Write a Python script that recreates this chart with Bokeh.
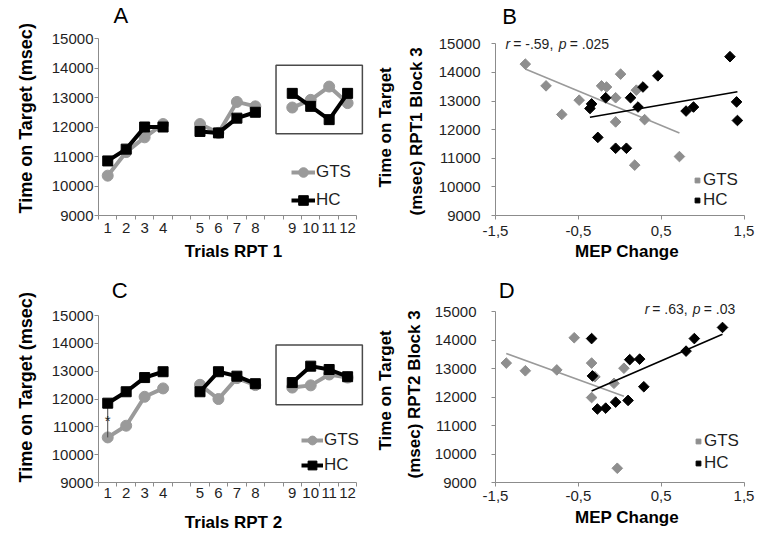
import numpy as np
from bokeh.plotting import figure
from bokeh.layouts import row, column
from bokeh.models import Range1d, FixedTicker, Legend, LegendItem, Label, BoxAnnotation, Title
from bokeh.embed import file_html
from bokeh.resources import INLINE

FONT = "Liberation Sans"
GRAY = "#9a9a9a"
DGRAY = "#8e8e8e"
AXIS = "#8c8c8c"
TXT = "#1f1f1f"

# ---------------- data ----------------
trial_labels = [str(i) for i in range(1, 13)]
trial_slots = [0, 1, 2, 3, 5, 6, 7, 8, 10, 11, 12, 13]   # category slots (blank slots between blocks)
blocks = [(0, 4), (4, 8), (8, 12)]
y_ticks = [9000, 10000, 11000, 12000, 13000, 14000, 15000]

rpt1_gts = [10350, 11150, 11650, 12100, 12100, 11800, 12850, 12700, 12660, 12920, 13370, 12810]
rpt1_hc = [10850, 11250, 12000, 12000, 11850, 11800, 12300, 12500, 13140, 12700, 12250, 13140]
rpt2_gts = [10620, 11040, 12080, 12380, 12510, 12000, 12750, 12500, 12410, 12490, 12880, 12770]
rpt2_hc = [11850, 12260, 12770, 12980, 12260, 12980, 12820, 12550, 12590, 13180, 13060, 12800]

mep_ticks = [-1.5, -0.5, 0.5, 1.5]
mep_tick_labels = ["-1,5", "-0,5", "0,5", "1,5"]

b_gts_x = [-1.14, -0.89, -0.70, -0.49, -0.22, -0.16, -0.05, 0.01, -0.05, 0.18, 0.20, 0.30, 0.72]
b_gts_y = [14290, 13530, 12530, 13030, 13530, 13490, 13115, 13940, 12270, 10760, 13380, 12350, 11060]
b_hc_x = [-0.34, -0.36, -0.265, -0.17, -0.05, 0.08, 0.13, 0.22, 0.28, 0.46, 0.80, 0.89, 1.33, 1.41, 1.42]
b_hc_y = [12900, 12740, 11730, 13115, 11350, 11350, 13115, 12790, 13490, 13880, 12650, 12790, 14550, 12970, 12320]
b_gts_fit_y = [14118, 11880]   # fitted line at min/max MEP of group
b_hc_fit_y = [12434, 13327]

d_gts_x = [-1.37, -1.14, -0.76, -0.55, -0.34, -0.30, -0.34, -0.07, 0.05, -0.03]
d_gts_y = [13190, 12920, 12950, 14080, 13190, 12710, 11980, 12480, 13010, 9500]
d_hc_x = [-0.34, -0.33, -0.27, -0.17, -0.05, 0.10, 0.12, 0.24, 0.29, 0.80, 0.90, 1.24]
d_hc_y = [14050, 12740, 11580, 11610, 11820, 11880, 13310, 13330, 12360, 13610, 14050, 14440]
d_gts_fit_y = [13524, 12024]
d_hc_fit_y = [12214, 14202]

# ---------------- layout (pixels) ----------------
LEFT_W, RIGHT_W = 373, 385
TOP_H, BOT_H = 268, 266
L_BORDER, L_RIGHT = 90, 5
R_BORDER, R_RIGHT = 112, 0
MEP_PX = 86.0   # pixels per MEP unit


def y_end(frame_h, px_15000_from_bottom):
    # frame spans the whole height above the x axis; 15000 sits px_15000_from_bottom above it
    return 9000 + 6000 * frame_h / px_15000_from_bottom


def base_fig(width, height, left, right, bottom, x_range, y_range):
    p = figure(width=width, height=height, x_range=x_range, y_range=y_range,
               output_backend="svg", toolbar_location=None,
               min_border_left=left, min_border_right=right,
               min_border_top=0, min_border_bottom=bottom)
    p.outline_line_color = None
    p.xgrid.visible = False
    p.ygrid.visible = False
    for ax in (p.xaxis[0], p.yaxis[0]):
        ax.axis_line_color = AXIS
        ax.major_tick_line_color = AXIS
        ax.minor_tick_line_color = AXIS
        ax.major_label_text_font = FONT
        ax.major_label_text_font_size = "15px"
        ax.major_label_text_color = TXT
        ax.axis_label_text_font = FONT
        ax.axis_label_text_font_size = "17px"
        ax.axis_label_text_font_style = "bold"
        ax.axis_label_text_color = "black"
    ya = p.yaxis[0]
    ya.ticker = FixedTicker(ticks=y_ticks)
    ya.bounds = (9000, 15000)
    ya.major_tick_out = 4
    ya.major_tick_in = 0
    ya.minor_tick_out = 0
    ya.minor_tick_in = 0
    return p


def ytitle(p, text, size, offset, standoff):
    p.add_layout(Title(text=text, align="left", offset=offset, standoff=standoff,
                       text_font=FONT, text_font_size=size, text_font_style="bold",
                       text_color="black"), "left")


def letter(p, text, x, y):
    p.add_layout(Label(x=x, y=y, x_units="screen", y_units="screen", text=text,
                       text_font=FONT, text_font_size="22px", text_color="black",
                       text_align="left", text_baseline="alphabetic"))


def line_panel(gts, hc, let, xlabel, box_top, box_bottom, height, bottom, y15,
               ytitle_offset, xlab_stand, xaxis_stand, leg_loc, leg_glyph, leg_spacing,
               let_pos, star=False):
    frame_w = LEFT_W - L_BORDER - L_RIGHT
    frame_h = height - bottom
    slot_px = 19.0
    p = base_fig(LEFT_W, height, L_BORDER, L_RIGHT, bottom,
                 Range1d(-0.5, -0.5 + frame_w / slot_px),
                 Range1d(9000, y_end(frame_h, y15)))
    xa = p.xaxis[0]
    xa.ticker = FixedTicker(ticks=trial_slots, minor_ticks=[s - 0.5 for s in range(15)])
    xa.major_label_overrides = {s: l for s, l in zip(trial_slots, trial_labels)}
    xa.major_tick_out = 0
    xa.major_tick_in = 0
    xa.minor_tick_out = 4
    xa.minor_tick_in = 0
    xa.bounds = (-0.5, 13.5)
    xa.major_label_standoff = xlab_stand
    xa.axis_label = xlabel
    xa.axis_label_standoff = xaxis_stand
    ya = p.yaxis[0]
    ya.major_label_standoff = 1
    ytitle(p, "Time on Target (msec)", "18px", ytitle_offset, 26)

    g_lines = []
    for i0, i1 in blocks:
        g_lines.append(p.line(trial_slots[i0:i1], gts[i0:i1], line_color=GRAY, line_width=4))
    g_pts = p.scatter(trial_slots, gts, marker="circle", size=11, fill_color=GRAY, line_color=GRAY)
    if star:
        p.segment(x0=[trial_slots[0]], y0=[hc[0]], x1=[trial_slots[0]], y1=[gts[0]],
                  line_color="#444444", line_width=1)
    h_lines = []
    for i0, i1 in blocks:
        h_lines.append(p.line(trial_slots[i0:i1], hc[i0:i1], line_color="black", line_width=4))
    h_pts = p.scatter(trial_slots, hc, marker="square", size=10, fill_color="black", line_color="black")
    if star:
        p.add_layout(Label(x=trial_slots[0], y=(hc[0] + gts[0]) / 2, text="*", text_font=FONT,
                           text_font_size="15px", text_align="center", text_baseline="alphabetic",
                           text_color="#222222"))

    p.add_layout(BoxAnnotation(left=9.12, right=13.8, bottom=box_bottom, top=box_top,
                               fill_alpha=0, line_color="#4a4a4a", line_alpha=1, line_width=1.5))

    leg = Legend(items=[LegendItem(label="GTS", renderers=[g_lines[0], g_pts]),
                        LegendItem(label="HC", renderers=[h_lines[0], h_pts])],
                 location=leg_loc, glyph_width=leg_glyph, glyph_height=leg_glyph,
                 label_height=leg_glyph, spacing=leg_spacing, label_standoff=1,
                 padding=0, margin=0, border_line_color=None, background_fill_alpha=0,
                 label_text_font=FONT, label_text_font_size="17px", label_text_color=TXT)
    p.add_layout(leg)
    letter(p, let, *let_pos)
    return p


def scatter_panel(gx, gy, hx, hy, gfit, hfit, let, ylabel1, ylabel2, height, bottom, y15,
                  ytick_stand, yt_offsets, yt_standoff, xtick_stand, xaxis_stand,
                  leg_loc, leg_spacing, let_pos, ann, ann_pos, ann_y):
    frame_w = RIGHT_W - R_BORDER - R_RIGHT
    frame_h = height - bottom
    p = base_fig(RIGHT_W, height, R_BORDER, R_RIGHT, bottom,
                 Range1d(-1.5, -1.5 + frame_w / MEP_PX), Range1d(9000, y_end(frame_h, y15)))
    xa = p.xaxis[0]
    xa.ticker = FixedTicker(ticks=mep_ticks)
    xa.bounds = (-1.5, 1.5)
    xa.major_label_overrides = {t: l for t, l in zip(mep_ticks, mep_tick_labels)}
    xa.major_tick_out = 4
    xa.major_tick_in = 0
    xa.minor_tick_out = 0
    xa.minor_tick_in = 0
    xa.major_label_standoff = xtick_stand
    xa.axis_label = "MEP Change"
    xa.axis_label_standoff = xaxis_stand
    ya = p.yaxis[0]
    ya.major_label_standoff = ytick_stand
    ytitle(p, ylabel2, "17px", yt_offsets[1], yt_standoff)
    ytitle(p, ylabel1, "17px", yt_offsets[0], 1)

    p.line([min(gx), max(gx)], gfit, line_color=GRAY, line_width=1.6)
    gs = p.scatter(gx, gy, marker="square", angle=np.pi / 4, size=7.5,
                   fill_color=DGRAY, line_color=DGRAY)
    p.line([min(hx), max(hx)], hfit, line_color="black", line_width=1.6)
    hs = p.scatter(hx, hy, marker="square", angle=np.pi / 4, size=7.5,
                   fill_color="black", line_color="black")

    leg = Legend(items=[LegendItem(label="GTS", renderers=[gs]), LegendItem(label="HC", renderers=[hs])],
                 location=leg_loc, glyph_width=12, glyph_height=16, label_height=16,
                 spacing=leg_spacing, label_standoff=0, padding=0, margin=0,
                 border_line_color=None, background_fill_alpha=0,
                 label_text_font=FONT, label_text_font_size="17px", label_text_color=TXT)
    p.add_layout(leg)
    letter(p, let, *let_pos)
    styles = ["italic", "normal", "italic", "normal"]
    for txt, xpos, st in zip(ann, ann_pos, styles):
        p.add_layout(Label(x=xpos, y=ann_y, x_units="screen", y_units="screen", text=txt,
                           text_font=FONT, text_font_size="14px", text_font_style=st,
                           text_color=TXT, text_align="left", text_baseline="alphabetic"))
    return p


pA = line_panel(rpt1_gts, rpt1_hc, "A", "Trials RPT 1", 14090, 11770,
                TOP_H, 53, 177, 2, 3, 6, (193, 3), 24, 4, (15, 200))
pC = line_panel(rpt2_gts, rpt2_hc, "C", "Trials RPT 2", 13940, 11790,
                BOT_H, 52, 167, 0, 1, 12, (203, 6), 22, 3, (13.3, 192), star=True)
pB = scatter_panel(b_gts_x, b_gts_y, b_hc_x, b_hc_y, b_gts_fit_y, b_hc_fit_y, "B",
                   "Time on Target", "(msec) RPT1 Block 3", TOP_H, 53, 171.7,
                   11, (28, 0), 19, 6, 3, (196, 5), 0, (6.7, 199.2),
                   ["r", "= -.59,", "p", "= .025"], [10, 17.7, 63.3, 74.3], 171.3)
pD = scatter_panel(d_gts_x, d_gts_y, d_hc_x, d_hc_y, d_gts_fit_y, d_hc_fit_y, "D",
                   "Time on Target", "(msec) RPT2 Block 3", BOT_H, 52, 171,
                   15, (32, 4), 15, 4, 4, (197, 9), 2, (3.3, 192),
                   ["r", "= .63,", "p", "= .03"], [149.3, 156.7, 197.3, 208.3], 173.3)

layout = column(row(pA, pB), row(pC, pD))
open("out.html", "w").write(file_html(layout, INLINE))
